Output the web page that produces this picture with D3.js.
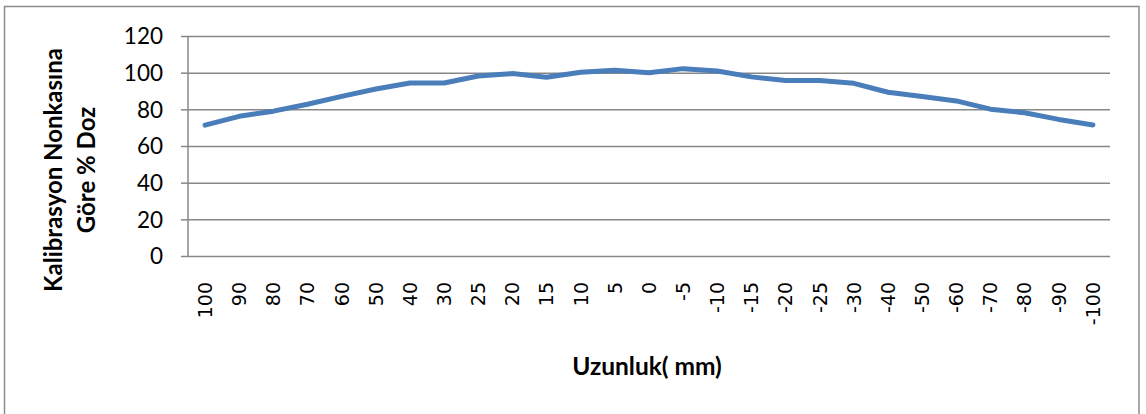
<!DOCTYPE html>
<html>
<head>
<meta charset="utf-8">
<script src="https://cdn.jsdelivr.net/npm/d3@7"></script>
<style>
  html, body { margin: 0; padding: 0; background: #fff; }
  svg { display: block; }
</style>
</head>
<body>
<svg id="chart" width="1146" height="414"></svg>
<script>
// Measurement positions along the length (mm)
const positions = ["100","90","80","70","60","50","40","30","25","20","15","10","5","0",
  "-5","-10","-15","-20","-25","-30","-40","-50","-60","-70","-80","-90","-100"];
// Dose relative to the calibration point (%)
const doseValues = [71.4, 76.2, 79.0, 82.8, 87.1, 91.1, 94.4, 94.4, 98.2, 99.5, 97.5, 100.2, 101.3, 100.0,
  102.2, 100.9, 97.7, 95.7, 95.7, 94.2, 89.3, 87.0, 84.6, 80.1, 78.1, 74.5, 71.5];
const yTicks = [0, 20, 40, 60, 80, 100, 120];

const svg = d3.select("#chart");
const margin = { left: 188, right: 1110, top: 36, bottom: 256 };

// outer chart frame
svg.append("rect")
  .attr("x", 4.5).attr("y", 6.5)
  .attr("width", 1134.5).attr("height", 420)
  .attr("fill", "#fff").attr("stroke", "#8c8c8c").attr("stroke-width", 1.5);

const x = d3.scaleBand().domain(positions).range([margin.left, margin.right]);
const y = d3.scaleLinear().domain([0, 120]).range([margin.bottom, margin.top]);

// horizontal gridlines with tick stubs
const yAxis = d3.axisLeft(y).tickValues(yTicks)
  .tickSize(-(margin.right - margin.left)).tickPadding(18).tickFormat(d3.format("d"));
const gy = svg.append("g").attr("transform", `translate(${margin.left},0)`).call(yAxis);
gy.select(".domain").remove();
gy.selectAll(".tick line").attr("stroke", "#878787").attr("stroke-width", 1.5);
gy.selectAll(".tick").append("line")
  .attr("x1", -7).attr("x2", 0).attr("stroke", "#878787").attr("stroke-width", 1.5);
gy.selectAll(".tick text")
  .attr("font-family", "Lato, sans-serif").attr("font-size", 22.5).attr("fill", "#000")
  .attr("dy", "0.35em").attr("x", -25);

// vertical axis line
svg.append("line")
  .attr("x1", margin.left).attr("x2", margin.left)
  .attr("y1", margin.top).attr("y2", margin.bottom)
  .attr("stroke", "#878787").attr("stroke-width", 1.5);

// category axis labels, rotated
const xAxis = d3.axisBottom(x).tickSize(0).tickPadding(0);
const gx = svg.append("g").attr("transform", `translate(0,${margin.bottom})`).call(xAxis);
gx.select(".domain").remove();
gx.selectAll(".tick text")
  .attr("font-family", "'DejaVu Sans', sans-serif").attr("font-size", 19)
  .attr("fill", "#000")
  .attr("text-anchor", "end")
  .attr("transform", "rotate(-90)")
  .attr("x", -26).attr("y", 0).attr("dy", "0.36em");

// dose profile line
const line = d3.line()
  .x((d, i) => x(positions[i]) + x.bandwidth() / 2)
  .y(d => y(d));
svg.append("path")
  .datum(doseValues)
  .attr("d", line)
  .attr("fill", "none")
  .attr("stroke", "#4a7ebb")
  .attr("stroke-width", 5)
  .attr("stroke-linejoin", "round")
  .attr("stroke-linecap", "round");

// axis titles
svg.append("text")
  .attr("x", 647).attr("y", 375)
  .attr("text-anchor", "middle")
  .attr("font-family", "Lato, sans-serif").attr("font-weight", "bold").attr("font-size", 24.5)
  .text("Uzunluk( mm)");

const yTitle = svg.append("text")
  .attr("transform", "translate(0,170) rotate(-90)")
  .attr("text-anchor", "middle")
  .attr("font-family", "Lato, sans-serif").attr("font-weight", "bold").attr("font-size", 24);
yTitle.append("tspan").attr("x", 0).attr("y", 62).text("Kalibrasyon Nonkasına");
yTitle.append("tspan").attr("x", 0).attr("y", 95).text("Göre % Doz");
</script>
</body>
</html>
